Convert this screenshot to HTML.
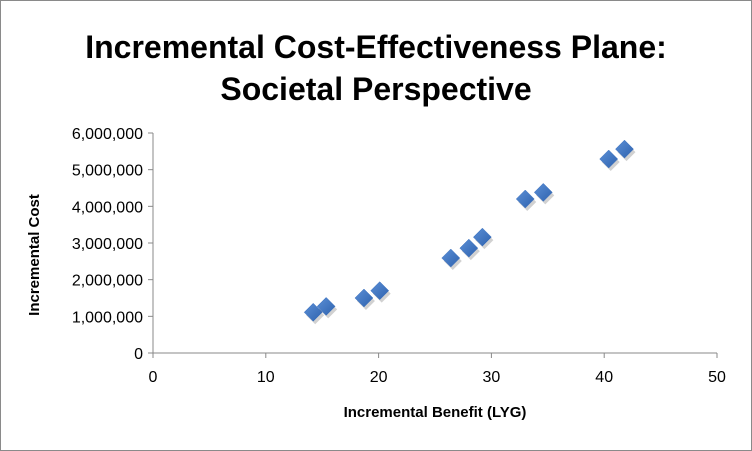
<!DOCTYPE html>
<html><head><meta charset="utf-8"><style>
html,body{margin:0;padding:0;background:#fff;}
svg{display:block;font-family:"Liberation Sans",Calibri,sans-serif;}
</style></head><body>
<svg id="chart" width="752" height="451">
<defs><linearGradient id="g" x1="0" y1="0" x2="1" y2="1"><stop offset="0" stop-color="#5b8fd6"/><stop offset="1" stop-color="#2e62ae"/></linearGradient></defs>
<rect x="0.5" y="0.5" width="751" height="450" fill="#fff" stroke="#8a8a8a"/>
<text x="376" y="58" text-anchor="middle" font-size="32" font-weight="bold" fill="#000">Incremental Cost-Effectiveness Plane:</text>
<text x="376" y="100" text-anchor="middle" font-size="32" font-weight="bold" fill="#000">Societal Perspective</text>
<text x="0" y="0" transform="translate(39,255) rotate(-90)" text-anchor="middle" font-size="15" font-weight="bold">Incremental Cost</text>
<text x="435" y="417" text-anchor="middle" font-size="15" font-weight="bold">Incremental Benefit  (LYG)</text>
<g id="axes"></g><g id="marks"></g>
</svg>
<script>
const xTicks=[0,10,20,30,40,50];
const yTicks=[0,1000000,2000000,3000000,4000000,5000000,6000000];
const yTickLabels=["0","1,000,000","2,000,000","3,000,000","4,000,000","5,000,000","6,000,000"];
const benefit=[14.2,15.35,18.7,20.1,26.4,28.0,29.2,33.0,34.6,40.4,41.8];
const cost=[1110000,1270000,1500000,1700000,2590000,2860000,3160000,4200000,4380000,5290000,5560000];
const X0=153,X1=717,Y0=353,Y1=133;
function sx(v){return X0+(v-0)/(50-0)*(X1-X0);}
function sy(v){return Y0-(v-0)/(6000000)*(Y0-Y1);}
const NS="http://www.w3.org/2000/svg";
const axes=document.getElementById('axes'),marks=document.getElementById('marks');
function mk(tag,attrs,parent){const e=document.createElementNS(NS,tag);for(const k in attrs)e.setAttribute(k,attrs[k]);parent.appendChild(e);return e;}
let l=mk('line',{x1:X0,y1:Y0,x2:X1,y2:Y0,stroke:'#888','stroke-width':1},axes);


l=mk('line',{x1:X0,y1:Y0,x2:X0,y2:Y1,stroke:'#888','stroke-width':1},axes);


xTicks.forEach(v=>{
 mk('line',{x1:sx(v),y1:Y0,x2:sx(v),y2:Y0+5,stroke:'#888'},axes);
 const t=mk('text',{x:sx(v),y:Y0+29,'text-anchor':'middle','font-size':16},axes);
 t.textContent=v;
 
 
});
yTicks.forEach((v,i)=>{
 mk('line',{x1:X0-5,y1:sy(v),x2:X0,y2:sy(v),stroke:'#888'},axes);
 const t=mk('text',{x:X0-10,y:sy(v)+6,'text-anchor':'end','font-size':16},axes);
 t.textContent=yTickLabels[i];
 
 
});
benefit.forEach((b,i)=>{
 const x=sx(b),y=sy(cost[i]),r=9;
 mk('path',{d:`M${x+2} ${y-r+3}L${x+r+2} ${y+3}L${x+2} ${y+r+3}L${x-r+2} ${y+3}Z`,fill:'rgba(0,0,0,0.18)'},marks);
 const p=mk('path',{d:`M${x} ${y-r}L${x+r} ${y}L${x} ${y+r}L${x-r} ${y}Z`,fill:'url(#g)',stroke:'#3a6fbd','stroke-width':0.5},marks);
 
 
});
</script>
</body></html>
